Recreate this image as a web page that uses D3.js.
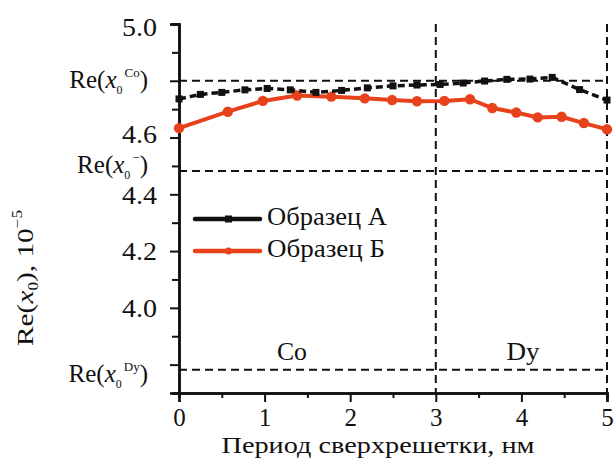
<!DOCTYPE html>
<html>
<head>
<meta charset="utf-8">
<script src="https://cdn.jsdelivr.net/npm/d3@7"></script>
<style>
  body { margin: 0; background: #fff; }
  svg { font-family: "Liberation Serif", "Times New Roman", serif; }
</style>
</head>
<body>
<svg id="chart" width="615" height="458"></svg>
<script>
// Образец А (squares)
var xA = [0, 0.25, 0.5, 0.77, 1.03, 1.3, 1.6, 1.9, 2.2, 2.5, 2.78, 3.05, 3.32, 3.57, 3.83, 4.1, 4.36, 4.68, 5.0];
var yA = [4.736, 4.752, 4.759, 4.768, 4.773, 4.768, 4.759, 4.766, 4.775, 4.782, 4.785, 4.787, 4.792, 4.799, 4.805, 4.806, 4.812, 4.769, 4.732];
// Образец Б (circles)
var xB = [0, 0.57, 0.98, 1.38, 1.78, 2.17, 2.49, 2.78, 3.1, 3.4, 3.66, 3.94, 4.19, 4.47, 4.73, 5.0];
var yB = [4.633, 4.691, 4.729, 4.748, 4.744, 4.738, 4.732, 4.728, 4.729, 4.735, 4.704, 4.688, 4.671, 4.673, 4.651, 4.629];

var seriesNames = ["Образец А", "Образец Б"];
var xTicks = [0, 1, 2, 3, 4, 5];
var xMinor = [0.5, 1.5, 2.5, 3.5, 4.5];
var yTicks = [3.8, 4.0, 4.2, 4.4, 4.6, 4.8, 5.0];
var yMinor = [3.7, 3.9, 4.1, 4.3, 4.5, 4.7, 4.9];
var yLabelled = ["4.0", "4.2", "4.4", "4.6", "5.0"];
// reference levels Re(x0^Co), Re(x0^-), Re(x0^Dy)
var refLevels = [4.8, 4.482, 3.782];
var refSups = ["Co", "\u2212", "Dy"];
var bounds = [3, 5];
var regionNames = ["Co", "Dy"];
var regionX = [1.32, 4.02];

var black = "#111", red = "#e8421d";

var svg = d3.select("#chart");
var x = d3.scaleLinear().domain([0, 5]).range([179, 607]);
var y = d3.scaleLinear().domain([3.7, 5.0]).range([393, 24]);

// stretch a text horizontally to a given width (the original is a bit wide)
function stretch(sel, w) {
  sel.attr("textLength", w).attr("lengthAdjust", "spacingAndGlyphs");
}

// dashed reference lines
svg.selectAll(".href")
  .data(refLevels)
  .enter().append("line")
  .attr("x1", x(0)).attr("x2", x(5))
  .attr("y1", function(d) { return y(d); })
  .attr("y2", function(d) { return y(d); })
  .attr("stroke", black).attr("stroke-width", 2)
  .attr("stroke-dasharray", "8,5");

svg.selectAll(".vref")
  .data(bounds)
  .enter().append("line")
  .attr("x1", function(d) { return x(d); })
  .attr("x2", function(d) { return x(d); })
  .attr("y1", y(5.0)).attr("y2", y(3.7))
  .attr("stroke", black).attr("stroke-width", 2)
  .attr("stroke-dasharray", "8,5");

// axes
var fmt = function(d) {
  var s = d.toFixed(1);
  return yLabelled.indexOf(s) >= 0 ? s : "";
};
var yAxis = svg.append("g")
  .attr("transform", "translate(" + x(0) + ",0)")
  .call(d3.axisLeft(y).tickValues(yTicks).tickFormat(fmt).tickSize(9).tickPadding(13));
svg.append("g")
  .attr("transform", "translate(" + x(0) + ",0)")
  .call(d3.axisLeft(y).tickValues(yMinor).tickFormat("").tickSize(7));

var xAxis = svg.append("g")
  .attr("transform", "translate(0," + y(3.7) + ")")
  .call(d3.axisBottom(x).tickValues(xTicks).tickFormat(d3.format("d")).tickSize(9).tickPadding(6));
svg.append("g")
  .attr("transform", "translate(0," + y(3.7) + ")")
  .call(d3.axisBottom(x).tickValues(xMinor).tickFormat("").tickSize(5));

svg.selectAll(".domain").attr("stroke", black).attr("stroke-width", 2.5);
svg.selectAll(".tick line").attr("stroke", black).attr("stroke-width", 2);
svg.selectAll(".tick text").attr("fill", black)
  .style("font-family", "Liberation Serif").style("font-size", "26px");
yAxis.selectAll(".tick text").attr("dy", function(d) {
  if (d === 5.0) return "0.46em";
  if (d === 4.6) return "0.18em";
  return "0.34em";
});
yAxis.selectAll(".tick text").filter(function() { return this.textContent; })
  .call(stretch, 35);
xAxis.selectAll(".tick text").style("font-size", "25px");

// series lines
var line = d3.line().x(function(d) { return x(d[0]); }).y(function(d) { return y(d[1]); });
var dataA = d3.zip(xA, yA), dataB = d3.zip(xB, yB);

svg.append("path").datum(dataB)
  .attr("d", line).attr("fill", "none")
  .attr("stroke", red).attr("stroke-width", 4);
svg.selectAll(".ptB").data(dataB).enter().append("circle")
  .attr("cx", function(d) { return x(d[0]); })
  .attr("cy", function(d) { return y(d[1]); })
  .attr("r", 5.2).attr("fill", red);

svg.append("path").datum(dataA)
  .attr("d", line).attr("fill", "none")
  .attr("stroke", black).attr("stroke-width", 3.5)
  .attr("stroke-dasharray", "7,4");
svg.selectAll(".ptA").data(dataA).enter().append("rect")
  .attr("x", function(d) { return x(d[0]) - 3.5; })
  .attr("y", function(d) { return y(d[1]) - 3.5; })
  .attr("width", 7).attr("height", 7).attr("fill", black);

// Re(x0^...) labels on the left
refLevels.forEach(function(v, i) {
  var base = [88, 173, 382][i];
  var t = svg.append("text")
    .attr("x", 148).attr("y", base)
    .attr("text-anchor", "end")
    .style("font-size", "25px").attr("fill", black);
  t.append("tspan").text("Re(");
  t.append("tspan").style("font-style", "italic").text("x");
  t.append("tspan").attr("dy", 6).style("font-size", "12px").text("0");
  t.append("tspan").attr("dy", -17).attr("dx", 2).style("font-size", "13px").text(refSups[i]);
  t.append("tspan").attr("dy", 11).text(")");
});

// region labels
svg.selectAll(".region").data(regionNames).enter().append("text")
  .attr("x", function(d, i) { return x(regionX[i]); })
  .attr("y", 360)
  .attr("text-anchor", "middle")
  .style("font-size", "25px").attr("fill", black)
  .text(function(d) { return d; })
  .each(function(d, i) { d3.select(this).call(stretch, [30, 33][i]); });

// legend
var legend = svg.append("g");
[0, 1].forEach(function(i) {
  var ly = [219, 251][i];
  var col = i === 0 ? black : red;
  legend.append("line")
    .attr("x1", 195).attr("x2", 260).attr("y1", ly).attr("y2", ly)
    .attr("stroke", col).attr("stroke-width", 4.5).attr("stroke-linecap", "round");
  if (i === 0) {
    legend.append("rect").attr("x", 225).attr("y", ly - 3.5)
      .attr("width", 7).attr("height", 7).attr("fill", col);
  } else {
    legend.append("circle").attr("cx", 228.5).attr("cy", ly).attr("r", 3.5).attr("fill", col);
  }
  legend.append("text")
    .attr("x", 267).attr("y", ly + 6)
    .style("font-size", "25px").attr("fill", black)
    .text(seriesNames[i])
    .call(stretch, [120, 118][i]);
});

// axis titles
svg.append("text")
  .attr("x", 378).attr("y", 453)
  .attr("text-anchor", "middle")
  .style("font-size", "24px").attr("fill", black)
  .text("Период сверхрешетки, нм")
  .call(stretch, 313);

var yt = svg.append("text")
  .attr("transform", "translate(33,278) rotate(-90)")
  .attr("text-anchor", "middle")
  .style("font-size", "24px").attr("fill", black);
yt.append("tspan").text("Re(");
yt.append("tspan").style("font-style", "italic").text("x");
yt.append("tspan").attr("dy", 5).style("font-size", "14px").text("0");
yt.append("tspan").attr("dy", -5).text("), 10");
yt.append("tspan").attr("dy", -11).style("font-size", "14px").text("\u22125");
yt.call(stretch, 136);
</script>
</body>
</html>
